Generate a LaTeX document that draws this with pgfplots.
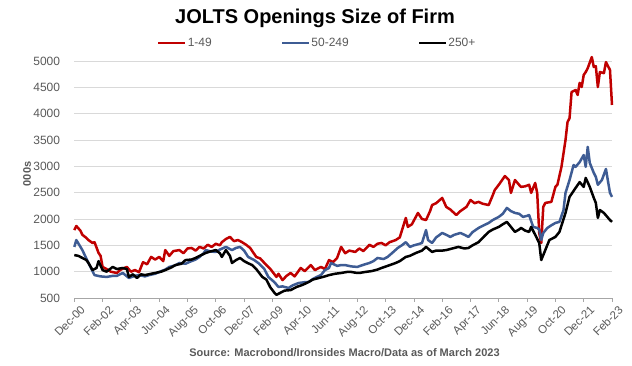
\documentclass[border=0pt]{standalone}
\usepackage{pgfplots}
\pgfplotsset{compat=1.18}
\usepackage{fontspec}
\setmainfont{Liberation Sans}
\definecolor{cred}{RGB}{192,0,0}
\definecolor{cblue}{RGB}{62,92,148}
\definecolor{txtgray}{RGB}{89,89,89}
\definecolor{gridgray}{RGB}{217,217,217}
\definecolor{axisgray}{RGB}{166,166,166}
\begin{document}
\begin{tikzpicture}[x=1pt,y=1pt]
\path[use as bounding box] (0,0) rectangle (632,366);
\begin{axis}[
  at={(74.3pt,68pt)}, anchor=south west,
  scale only axis, width=537.7pt, height=237pt,
  xmin=0, xmax=266, ymin=500, ymax=5000,
  clip=false,
  xtick={0,14,...,266},
  xticklabels={Dec-00,Feb-02,Apr-03,Jun-04,Aug-05,Oct-06,Dec-07,Feb-09,Apr-10,Jun-11,Aug-12,Oct-13,Dec-14,Feb-16,Apr-17,Jun-18,Aug-19,Oct-20,Dec-21,Feb-23},
  ytick={500,1000,...,5000},
  /pgf/number format/assume math mode=true,
  /pgf/number format/1000 sep={},
  ymajorgrids, grid style={color=gridgray, line width=0.8pt},
  separate axis lines,
  axis x line*=bottom, axis y line*=left,
  y axis line style={draw=none},
  x axis line style={color=axisgray, line width=0.8pt},
  xtick style={color=axisgray, line width=0.8pt},
  ytick style={draw=none},
  tick align=outside, major tick length=4pt,
  ticklabel style={text=txtgray},
  yticklabel style={font=\fontsize{12}{14}\selectfont, inner sep=0pt, xshift=-10pt},
  xticklabel style={font=\fontsize{11.5}{13}\selectfont, rotate=45, anchor=north east, inner sep=0pt, yshift=-6pt, xshift=2pt},
  legend columns=3,
  legend style={at={(0.1538,1.076)}, anchor=west, draw=none, fill=none, inner sep=0pt,
    font=\fontsize{12}{14}\selectfont, text=txtgray,
    /tikz/every even column/.append style={column sep=68pt},
    nodes={inner xsep=1pt}},
  legend image code/.code={\draw[#1, line width=2.6pt] (0pt,0pt) -- (27pt,0pt);},
  every axis plot/.append style={line width=2.5pt, line join=round},
]
\addplot[cred] table {
0 1790
1 1867
3 1780
4 1700
6 1640
7 1600
9 1545
10 1560
12 1355
13 1300
14 1090
16 1050
18 1000
21 975
23 1040
26 1090
28 1000
30 1030
32 990
34 1180
36 1140
38 1280
40 1230
42 1280
44 1200
45 1410
47 1300
49 1390
52 1410
54 1350
56 1440
58 1450
60 1400
62 1470
64 1440
66 1510
68 1470
70 1530
72 1500
73 1560
75 1620
77 1660
79 1580
81 1600
83 1560
85 1510
87 1450
90 1280
92 1250
95 1125
97 1050
100 900
101 960
103 840
105 920
107 975
109 910
112 1070
114 1010
117 1125
119 1030
122 1090
124 1050
126 1220
128 1180
130 1260
132 1470
134 1350
136 1400
139 1375
141 1440
143 1390
146 1510
148 1470
150 1530
152 1545
154 1500
156 1560
159 1600
161 1650
164 2020
165 1850
167 1900
170 2115
172 2000
174 1980
176 2150
177 2265
179 2300
182 2400
184 2230
186 2180
189 2075
191 2150
194 2230
196 2360
198 2300
200 2325
202 2290
205 2265
207 2450
208 2550
210 2650
213 2815
215 2740
216 2495
218 2740
220 2650
221 2610
223 2620
225 2650
226 2495
228 2685
229 2495
230 1735
231 1545
232 2230
233 2305
236 2325
238 2610
239 2650
241 2990
243 3500
244 3840
245 3915
246 4410
248 4450
249 4355
250 4585
251 4505
252 4735
253 4790
254 4865
256 5075
257 4885
258 4900
259 4505
260 4790
262 4770
263 4980
265 4830
266 4165
};
\addlegendentry{1-49}
\addplot[cblue] table {
0 1470
1 1600
4 1410
7 1165
10 935
13 910
16 900
19 920
21 920
24 975
27 880
30 920
32 935
35 910
37 935
40 960
42 995
45 1040
47 1090
50 1120
52 1165
55 1150
57 1185
60 1230
62 1280
64 1350
65 1410
68 1380
70 1375
72 1420
75 1470
78 1410
80 1450
82 1470
84 1400
86 1280
89 1220
91 1165
94 1050
96 900
99 800
101 710
103 720
106 690
108 740
111 785
114 800
116 805
118 860
120 900
122 935
124 1030
126 1070
127 1165
130 1110
132 1125
134 1125
137 1100
140 1090
143 1130
146 1165
148 1200
150 1260
153 1240
155 1280
158 1380
160 1450
162 1500
164 1560
166 1470
168 1500
170 1520
172 1545
174 1790
175 1600
177 1545
179 1650
182 1735
184 1700
186 1660
188 1700
191 1735
193 1700
195 1660
197 1750
200 1830
202 1870
205 1925
207 1980
210 2040
212 2100
214 2210
216 2150
218 2115
220 2100
222 2040
224 2060
225 2075
227 1850
229 1830
230 1800
231 1600
232 1735
234 1830
236 1880
238 1925
240 1945
242 2170
243 2495
245 2740
247 3025
248 2990
250 3080
252 3215
253 2990
254 3370
255 3065
257 2875
258 2800
259 2650
261 2740
263 2950
265 2495
266 2420
};
\addlegendentry{50-249}
\addplot[black] table {
0 1315
2 1300
4 1260
6 1220
7 1165
8 1100
9 1030
11 1070
12 1200
14 1030
16 1000
19 1090
21 1050
24 1070
26 1050
27 900
29 950
31 880
33 950
35 935
38 960
40 975
43 1000
45 1030
48 1080
50 1125
53 1150
55 1220
58 1230
60 1260
62 1300
65 1355
67 1380
70 1410
72 1350
73 1280
75 1410
77 1300
78 1165
80 1220
82 1260
84 1200
86 1160
88 1125
90 1050
93 900
95 850
97 700
99 600
100 560
102 600
104 640
107 650
110 710
113 750
116 805
118 850
121 880
124 910
126 935
129 960
132 975
135 995
137 995
139 980
141 975
144 995
147 1010
150 1040
152 1070
155 1110
159 1165
161 1200
164 1280
166 1300
169 1355
172 1400
174 1470
177 1375
179 1400
182 1400
184 1410
187 1440
190 1470
193 1440
195 1450
197 1500
200 1560
203 1680
205 1755
207 1800
210 1850
212 1900
214 1945
216 1850
218 1755
220 1800
221 1830
223 1780
225 1755
226 1850
228 1700
230 1545
231 1220
233 1410
235 1600
238 1660
240 1755
243 2115
245 2420
248 2590
250 2700
252 2610
253 2780
255 2610
257 2400
258 2305
259 2020
260 2170
262 2115
265 1980
266 1945
};
\addlegendentry{250+}
\end{axis}
\node[font=\bfseries\fontsize{20}{24}\selectfont, text=black] at (315,348) {JOLTS Openings Size of Firm};
\node[font=\bfseries\fontsize{11}{13}\selectfont, text=txtgray, rotate=90] at (27,192) {000s};
\node[font=\bfseries\fontsize{11}{13}\selectfont, text=txtgray] at (344.5,13) {Source: Macrobond/Ironsides Macro/Data as of March 2023};
\end{tikzpicture}
\end{document}
